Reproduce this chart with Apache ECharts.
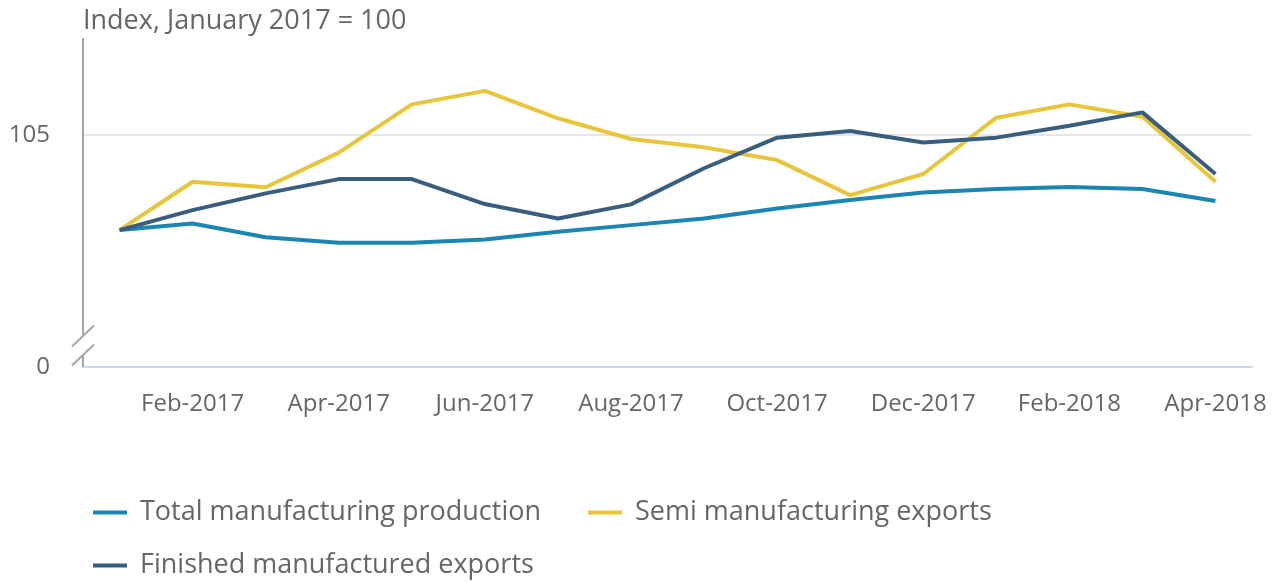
<!DOCTYPE html>
<html>
<head>
<meta charset="utf-8">
<script src="https://cdn.jsdelivr.net/npm/echarts@6/dist/echarts.min.js"></script>
<style>
html,body{margin:0;padding:0;background:#fff;}
#chart{width:1282px;height:582px;}
</style>
</head>
<body>
<div id="chart"></div>
<script>
const categories = ['Jan-2017','Feb-2017','Mar-2017','Apr-2017','May-2017','Jun-2017','Jul-2017','Aug-2017','Sep-2017','Oct-2017','Nov-2017','Dec-2017','Jan-2018','Feb-2018','Mar-2018','Apr-2018'];
const totalProduction = [100, 100.35, 99.62, 99.33, 99.33, 99.51, 99.91, 100.26, 100.61, 101.14, 101.58, 101.97, 102.16, 102.26, 102.16, 101.53];
const semiExports = [100, 102.54, 102.25, 104.07, 106.61, 107.32, 105.88, 104.79, 104.35, 103.68, 101.84, 102.95, 105.91, 106.61, 105.96, 102.54];
const finishedExports = [100, 101.05, 101.93, 102.68, 102.68, 101.37, 100.61, 101.35, 103.25, 104.86, 105.21, 104.6, 104.86, 105.49, 106.19, 102.95];
const seriesNames = ['Total manufacturing production','Semi manufacturing exports','Finished manufactured exports'];
const yMin = 92.8, yMax = 110.1, yGridValue = 105;
const yTickLabels = {min: '0', grid: '105'};
const axisTitle = 'Index, January 2017 = 100';

const FONT = '"Open Sans", sans-serif';
const TEXT = '#666666';
const colors = ['#1a86b1', '#e8c53b', '#385d7f'];

const chart = echarts.init(document.getElementById('chart'));
const legendText = {fontFamily: FONT, fontSize: 27, color: TEXT, padding: [0,0,0,8]};
const option = {
  animation: false,
  backgroundColor: '#ffffff',
  textStyle: {fontFamily: FONT},
  title: {
    text: axisTitle, left: 83, top: 8, padding: 0,
    textStyle: {fontFamily: FONT, fontSize: 27, fontWeight: 'normal', color: TEXT}
  },
  grid: {left: 83, right: 30, top: 38, bottom: 215, containLabel: false},
  legend: [{
    left: 93, top: 499, padding: 0, orient: 'horizontal',
    icon: 'rect', itemWidth: 34, itemHeight: 4, itemGap: 47,
    data: [seriesNames[0], seriesNames[1]],
    textStyle: legendText
  }, {
    left: 93, top: 552, padding: 0, orient: 'horizontal',
    icon: 'rect', itemWidth: 34, itemHeight: 4,
    data: [seriesNames[2]],
    textStyle: legendText
  }],
  xAxis: {
    type: 'category', data: categories, boundaryGap: true,
    axisLine: {lineStyle: {color: '#ccd6eb', width: 2}},
    axisTick: {alignWithLabel: true, length: 20, lineStyle: {color: '#ccd6eb', width: 2},
      interval: function (i) { return i % 2 === 1; }},
    axisLabel: {interval: function (i) { return i % 2 === 1; }, margin: 25,
      fontFamily: FONT, fontSize: 24, color: TEXT},
    splitLine: {show: false}
  },
  yAxis: {
    type: 'value', min: yMin, max: yMax, interval: yGridValue - yMin,
    axisLine: {show: false}, axisTick: {show: false},
    axisLabel: {margin: 33, fontFamily: FONT, fontSize: 24, color: TEXT,
      formatter: function (v) {
        if (Math.abs(v - yGridValue) < 0.01) return yTickLabels.grid;
        if (Math.abs(v - yMin) < 0.01) return yTickLabels.min;
        return '';
      }},
    splitLine: {show: true, showMinLine: false, showMaxLine: false,
      lineStyle: {color: '#e6e6e6', width: 2}}
  },
  series: [
    {name: seriesNames[0], type: 'line', data: totalProduction, symbol: 'none', lineStyle: {width: 4, color: colors[0]}, itemStyle: {color: colors[0]}},
    {name: seriesNames[1], type: 'line', data: semiExports, symbol: 'none', lineStyle: {width: 4, color: colors[1]}, itemStyle: {color: colors[1]}},
    {name: seriesNames[2], type: 'line', data: finishedExports, symbol: 'none', lineStyle: {width: 4, color: colors[2]}, itemStyle: {color: colors[2]}}
  ]
};
chart.setOption(option);

// axis line with break marks, positioned from the grid rectangle
const rect = chart.getModel().getComponent('grid').coordinateSystem.getRect();
const ax = rect.x;
const yTop = rect.y;
const yBottom = rect.y + rect.height;
const breakUpper = yBottom - 31;
const breakLower = yBottom - 12;
const gray = '#a6a6a6';
chart.setOption({
  graphic: [
    {type: 'line', shape: {x1: ax, y1: yTop, x2: ax, y2: breakUpper}, style: {stroke: gray, lineWidth: 2}, z: 10},
    {type: 'line', shape: {x1: ax, y1: breakLower, x2: ax, y2: yBottom}, style: {stroke: gray, lineWidth: 2}, z: 10},
    {type: 'line', shape: {x1: ax - 11, y1: breakUpper + 10.5, x2: ax + 11, y2: breakUpper - 10.5}, style: {stroke: gray, lineWidth: 2}, z: 10},
    {type: 'line', shape: {x1: ax - 11, y1: breakLower + 10.5, x2: ax + 11, y2: breakLower - 10.5}, style: {stroke: gray, lineWidth: 2}, z: 10}
  ]
});
</script>
</body>
</html>
